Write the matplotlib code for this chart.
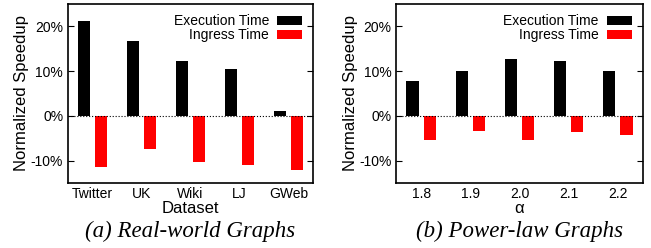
import matplotlib
matplotlib.use("Agg")
import matplotlib.pyplot as plt
import numpy as np

# data
datasets = ["Twitter", "UK", "Wiki", "LJ", "GWeb"]
real_exec = [21.3, 16.7, 12.2, 10.4, 1.1]
real_ingress = [-11.5, -7.3, -10.2, -11.0, -12.0]

alphas = ["1.8", "1.9", "2.0", "2.1", "2.2"]
power_exec = [7.8, 10.0, 12.7, 12.2, 10.0]
power_ingress = [-5.3, -3.3, -5.5, -3.5, -4.2]

yticks = [-10, 0, 10, 20]

plt.rcParams["font.family"] = ["Liberation Sans", "DejaVu Sans"]

fig = plt.figure(figsize=(6.51, 2.48), dpi=100)
ax1 = fig.add_axes([0.1045, 0.262, 0.376, 0.722])
ax2 = fig.add_axes([0.609, 0.262, 0.378, 0.722])


def draw(ax, labels, exe, ing, xlabel, caption):
    x = np.arange(len(labels))
    w = 0.25
    ax.bar(x - 0.175, exe, w, color="black", label="Execution Time")
    ax.bar(x + 0.175, ing, w, color="#ff0000", label="Ingress Time")
    ax.axhline(0, color="black", linestyle=":", lw=0.8)
    ax.set_xlim(-0.5, len(labels) - 0.5)
    ax.set_ylim(-15, 25)
    ax.set_yticks(yticks)
    ax.set_yticklabels([f"{v}%" for v in yticks])
    ax.set_xticks(x)
    ax.set_xticklabels(labels)
    ax.tick_params(axis="y", direction="in", right=True, length=4, labelsize=10)
    ax.tick_params(axis="x", length=0, labelsize=10, pad=3)
    for s in ax.spines.values():
        s.set_linewidth(1.2)
    ax.set_ylabel("Normalized Speedup", fontsize=12, labelpad=1)
    ax.set_xlabel(xlabel, fontsize=12, labelpad=0)
    ax.legend(loc="upper right", frameon=False, markerfirst=False, fontsize=10,
              handlelength=1.8, handleheight=0.6, labelspacing=0.0,
              borderaxespad=0.35, handletextpad=0.6)
    ax.text(0.5, -0.27, caption, transform=ax.transAxes, ha="center", va="center",
            fontsize=16.5, style="italic", family="Liberation Serif")


draw(ax1, datasets, real_exec, real_ingress, "Dataset", "(a) Real-world Graphs")
draw(ax2, alphas, power_exec, power_ingress, "α", "(b) Power-law Graphs")

fig.savefig("out.png", dpi=100)
